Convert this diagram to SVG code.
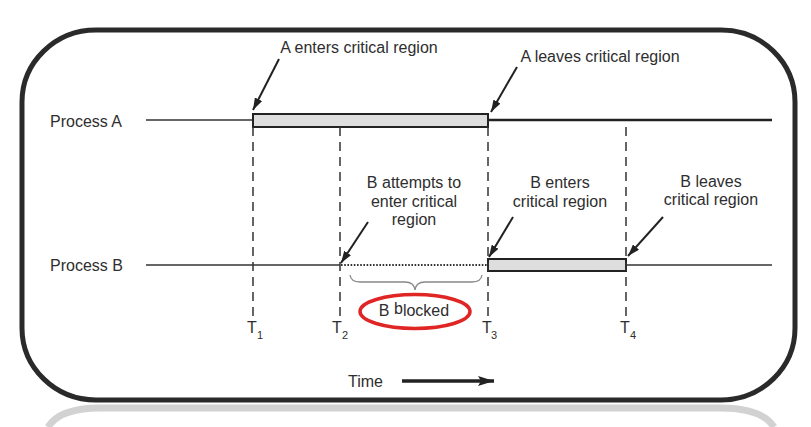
<svg xmlns="http://www.w3.org/2000/svg" width="811" height="427" viewBox="0 0 811 427">
<defs>
<marker id="ah" viewBox="0 0 12 8" refX="12" refY="4" markerWidth="12" markerHeight="8" markerUnits="userSpaceOnUse" orient="auto">
<path d="M0,0 L12,4 L0,8 Z" fill="#222"/>
</marker>
<marker id="th" viewBox="0 0 16 10" refX="16" refY="5" markerWidth="16" markerHeight="10" markerUnits="userSpaceOnUse" orient="auto">
<path d="M0,0 L16,5 L0,10 L3,5 Z" fill="#222"/>
</marker>
</defs>
<style>
text{font-family:"Liberation Sans",Arial,sans-serif;font-size:16px;fill:#2e2e2e}
.sub{font-size:11px}
.thin{stroke:#333;stroke-width:1.5;fill:none}
.thick{stroke:#222;stroke-width:2.5;fill:none}
.bar{fill:#dedede;stroke:#222;stroke-width:2}
.dash{stroke:#333;stroke-width:1.5;stroke-dasharray:9 6;fill:none}
.arr{stroke:#222;stroke-width:2;fill:none;marker-end:url(#ah)}
</style>
<rect width="811" height="427" fill="#fff"/>
<path d="M48,427 Q60,408 100,408 L720,408 Q762,408 774,427" fill="none" stroke="#d2d2d2" stroke-width="7"/>
<rect x="22" y="30" width="773" height="370" rx="74" ry="72" fill="#fff" stroke="#2a2a2a" stroke-width="5"/>

<g id="processA">
<text x="50" y="127">Process A</text>
<line class="thin" x1="146" y1="120" x2="253" y2="120"/>
<rect class="bar" x="253" y="114" width="235" height="13"/>
<line class="thick" x1="488" y1="120" x2="772" y2="120"/>
</g>

<g id="processB">
<text x="50" y="271">Process B</text>
<line class="thin" x1="146" y1="265" x2="340" y2="265"/>
<line x1="341" y1="265" x2="488" y2="265" stroke="#333" stroke-width="2.2" stroke-dasharray="1.6 1.6"/>
<rect class="bar" x="488" y="259" width="138" height="12"/>
<line class="thin" x1="626" y1="265" x2="772" y2="265"/>
</g>

<g id="timeMarks">
<line class="dash" x1="253" y1="127" x2="253" y2="316"/>
<line class="dash" x1="340" y1="127" x2="340" y2="316"/>
<line class="dash" x1="488" y1="127" x2="488" y2="316"/>
<line class="dash" x1="626" y1="127" x2="626" y2="316"/>
<text x="252" y="333" text-anchor="middle">T</text><text class="sub" x="257" y="339">1</text>
<text x="337" y="333" text-anchor="middle">T</text><text class="sub" x="342" y="339">2</text>
<text x="487" y="333" text-anchor="middle">T</text><text class="sub" x="491" y="339">3</text>
<text x="625" y="333" text-anchor="middle">T</text><text class="sub" x="630" y="339">4</text>
</g>

<g id="labelAenters">
<text x="359" y="53" text-anchor="middle">A enters critical region</text>
</g>
<g id="labelAleaves">
<text x="600" y="62" text-anchor="middle">A leaves critical region</text>
</g>
<g id="labelBattempts">
<text x="414" y="188" text-anchor="middle">B attempts to</text>
<text x="414" y="207" text-anchor="middle">enter critical</text>
<text x="414" y="225" text-anchor="middle">region</text>
</g>
<g id="labelBenters">
<text x="560" y="188" text-anchor="middle">B enters</text>
<text x="560" y="207" text-anchor="middle">critical region</text>
</g>
<g id="labelBleaves">
<text x="711" y="187" text-anchor="middle">B leaves</text>
<text x="711" y="205" text-anchor="middle">critical region</text>
</g>

<g id="blocked">
<path d="M350,275 Q351,282 360,282 L405,282 Q414,282 415,290 Q416,282 425,282 L472,282 Q481,282 482,275" fill="none" stroke="#888" stroke-width="1.3"/>
<ellipse cx="415" cy="311.5" rx="55" ry="17" fill="none" stroke="#e02525" stroke-width="3.5"/>
<text x="414" y="316" text-anchor="middle">B <tspan dy="-2">b</tspan><tspan dy="2">locked</tspan></text>
</g>

<g id="timeAxis">
<text x="348" y="387">Time</text>
<line x1="402" y1="381" x2="494" y2="381" stroke="#222" stroke-width="3.5" marker-end="url(#th)"/>
</g>

<g id="connectors">
<line class="arr" x1="279" y1="59" x2="253" y2="110"/>
<line class="arr" x1="517" y1="67" x2="491" y2="112"/>
<line class="arr" x1="368" y1="222" x2="341" y2="263"/>
<line class="arr" x1="513" y1="217" x2="489" y2="257"/>
<line class="arr" x1="663" y1="217" x2="628" y2="256"/>
</g>
</svg>
